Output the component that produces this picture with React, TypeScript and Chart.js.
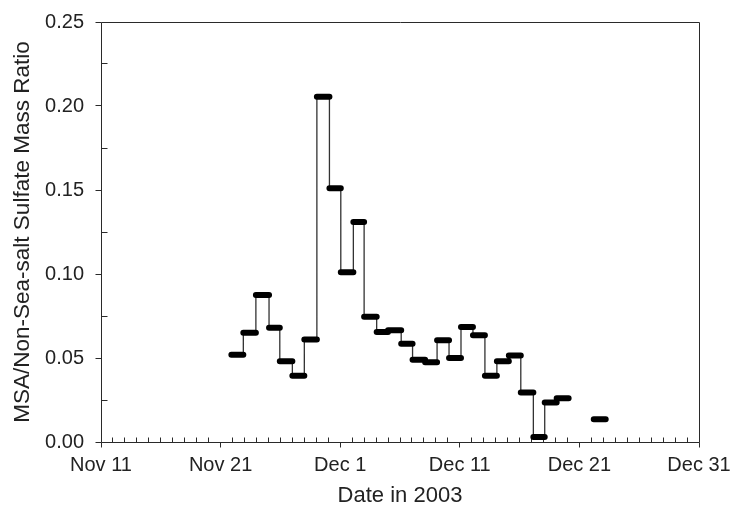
import React, { useEffect, useRef } from "react";
import { Chart, registerables } from "chart.js";

Chart.register(...registerables);

// x values: days after Nov 11, 2003
const xTickLabels = ["Nov 11", "Nov 21", "Dec 1", "Dec 11", "Dec 21", "Dec 31"];
const sampleStart = [
  10.9, 11.9, 12.95, 14.05, 14.95, 16.0, 17.0, 18.05, 19.1, 20.05, 21.1, 22.0, 23.05, 24.0,
  25.1, 26.05, 27.1, 28.1, 29.1, 30.1, 31.1, 32.1, 33.1, 34.1, 35.1, 36.15, 37.1, 38.1, 41.2,
];
const sampleEnd = [
  11.9, 12.95, 14.05, 14.95, 16.0, 17.0, 18.05, 19.1, 20.05, 21.1, 22.0, 23.05, 24.0, 25.1,
  26.05, 27.1, 28.1, 29.1, 30.1, 31.1, 32.1, 33.1, 34.1, 35.1, 36.15, 37.1, 38.1, 39.1, 42.2,
];
const ratio = [
  0.052, 0.065, 0.0875, 0.068, 0.048, 0.0395, 0.061, 0.2055, 0.151, 0.101, 0.131, 0.0745,
  0.0655, 0.0665, 0.0585, 0.049, 0.0475, 0.0605, 0.05, 0.0685, 0.0635, 0.0395, 0.048, 0.0515,
  0.0295, 0.003, 0.0235, 0.026, 0.0135,
];

const FONT = "'Liberation Sans', Arial, Helvetica, sans-serif";
const AXIS_COLOR = "#2a2a2a";

const frameTicks = {
  id: "frameTicks",
  beforeDatasetsDraw(chart: any) {
    const { ctx, chartArea } = chart;
    const xs = chart.scales.x;
    const ys = chart.scales.y;
    const L = Math.floor(chartArea.left) + 0.5;
    const R = Math.floor(chartArea.right) + 0.5;
    const T = Math.floor(chartArea.top) + 0.5;
    const B = Math.floor(chartArea.bottom) + 0.5;
    ctx.save();
    ctx.strokeStyle = AXIS_COLOR;
    ctx.lineWidth = 1;
    ctx.beginPath();
    ctx.rect(L, T, R - L, B - T);
    // x ticks: majors outward, daily minors inward
    const majorsX = xs.ticks.map((t: any) => t.value);
    for (let d = xs.min; d <= xs.max; d += 1) {
      const px = Math.floor(xs.getPixelForValue(d)) + 0.5;
      if (majorsX.includes(d)) {
        ctx.moveTo(px, B);
        ctx.lineTo(px, B + 5);
      } else {
        ctx.moveTo(px, B);
        ctx.lineTo(px, B - 5);
      }
    }
    // y ticks: majors outward, minors (midpoints) inward
    const majorsY = ys.ticks.map((t: any) => t.value);
    majorsY.forEach((v: number, i: number) => {
      const py = Math.floor(ys.getPixelForValue(v)) + 0.5;
      ctx.moveTo(L, py);
      ctx.lineTo(L - 6, py);
      if (i < majorsY.length - 1) {
        const mv = (v + majorsY[i + 1]) / 2;
        const my = Math.floor(ys.getPixelForValue(mv)) + 0.5;
        ctx.moveTo(L, my);
        ctx.lineTo(L + 6, my);
      }
    });
    ctx.stroke();
    ctx.restore();
  },
};

const zeroPad = (s: any) => {
  s.paddingLeft = 0;
  s.paddingRight = 0;
  s.paddingTop = 0;
  s.paddingBottom = 0;
};

export default function App() {
  const ref = useRef<HTMLCanvasElement>(null);
  useEffect(() => {
    if (!ref.current) return;
    const thick: any[] = [];
    const thin: any[] = [];
    for (let i = 0; i < ratio.length; i++) {
      thick.push({ x: sampleStart[i], y: ratio[i] });
      thick.push({ x: sampleEnd[i], y: ratio[i] });
      thick.push({ x: sampleEnd[i], y: null });
      thin.push({ x: sampleStart[i], y: ratio[i] });
      thin.push({ x: sampleEnd[i], y: ratio[i] });
      const next = sampleStart[i + 1];
      if (next === undefined || Math.abs(next - sampleEnd[i]) > 0.01) {
        thin.push({ x: sampleEnd[i], y: null });
      }
    }
    const chart = new Chart(ref.current, {
      type: "line",
      data: {
        datasets: [
          {
            data: thick,
            borderColor: "#000",
            borderWidth: 6,
            borderCapStyle: "round",
            pointRadius: 0,
            spanGaps: false,
            tension: 0,
            order: 0,
          },
          {
            data: thin,
            borderColor: "#333",
            borderWidth: 1.3,
            pointRadius: 0,
            spanGaps: false,
            tension: 0,
            order: 1,
          },
        ],
      },
      options: {
        animation: false,
        responsive: true,
        maintainAspectRatio: false,
        layout: { padding: { left: 0, right: 34, top: 22, bottom: 0 } },
        plugins: { legend: { display: false }, tooltip: { enabled: false } },
        scales: {
          x: {
            type: "linear",
            min: 0,
            max: 50,
            grid: { display: false, drawTicks: false },
            border: { display: false },
            ticks: {
              stepSize: 10,
              autoSkip: false,
              maxRotation: 0,
              padding: 11,
              color: "#222",
              font: { family: FONT, size: 20 },
              callback: (v: any) => xTickLabels[Math.round(Number(v) / 10)] ?? "",
            },
            title: {
              display: true,
              text: "Date in 2003",
              color: "#222",
              font: { family: FONT, size: 22, lineHeight: 0.82 },
              padding: { top: 0, bottom: 0 },
            },
            afterFit: (s: any) => {
              s.height = 63;
              zeroPad(s);
            },
          },
          y: {
            min: 0,
            max: 0.25,
            grid: { display: false, drawTicks: false },
            border: { display: false },
            ticks: {
              stepSize: 0.05,
              padding: 17,
              color: "#222",
              font: { family: FONT, size: 20 },
              callback: (v: any) => Number(v).toFixed(2),
            },
            title: {
              display: true,
              text: "MSA/Non-Sea-salt Sulfate Mass Ratio",
              color: "#222",
              font: { family: FONT, size: 22.5, lineHeight: 1.2 },
              padding: { top: 9, bottom: 0 },
            },
            afterFit: (s: any) => {
              s.width = 101;
              zeroPad(s);
            },
          },
        },
      },
      plugins: [frameTicks],
    });
    return () => chart.destroy();
  }, []);
  return (
    <div style={{ position: "fixed", left: 0, top: 0, width: 733, height: 505, background: "#fff" }}>
      <canvas ref={ref} />
    </div>
  );
}
